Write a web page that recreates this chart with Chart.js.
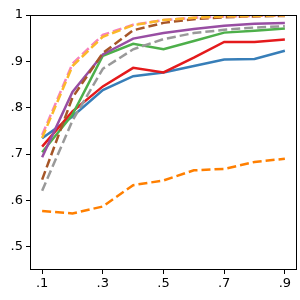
<!DOCTYPE html>
<html>
<head>
<meta charset="utf-8">
<script src="https://cdn.jsdelivr.net/npm/chart.js@4"></script>
<style>
  html, body { margin: 0; padding: 0; background: #fff; }
  #wrap { width: 300px; height: 300px; }
</style>
</head>
<body>
<div id="wrap"><canvas id="myChart"></canvas></div>
<script>
const xs = [0.1, 0.2, 0.3, 0.4, 0.5, 0.6, 0.7, 0.8, 0.9];
const xTicks = [0.1, 0.3, 0.5, 0.7, 0.9];
const yTicks = [0.5, 0.6, 0.7, 0.8, 0.9, 1.0];

const blueVals   = [0.734, 0.781, 0.838, 0.868, 0.876, 0.890, 0.904, 0.905, 0.923];
const redVals    = [0.716, 0.792, 0.846, 0.886, 0.876, 0.908, 0.942, 0.942, 0.947];
const greenVals  = [0.704, 0.785, 0.912, 0.938, 0.926, 0.944, 0.962, 0.966, 0.971];
const purpleVals = [0.693, 0.834, 0.915, 0.949, 0.961, 0.970, 0.977, 0.981, 0.983];
const grayVals   = [0.621, 0.772, 0.884, 0.926, 0.948, 0.961, 0.968, 0.973, 0.976];
const brownVals  = [0.645, 0.822, 0.918, 0.967, 0.983, 0.991, 0.995, 0.997, 0.998];
const pinkVals   = [0.741, 0.895, 0.957, 0.979, 0.989, 0.994, 0.997, 0.998, 0.999];
const yellowVals = [0.735, 0.890, 0.953, 0.978, 0.989, 0.994, 0.997, 0.998, 0.999];
const orangeVals = [0.577, 0.572, 0.587, 0.633, 0.643, 0.665, 0.668, 0.683, 0.690];

function series(vals, color, dashed) {
    return {
        data: vals.map((v, i) => ({x: xs[i], y: v})),
        borderColor: color,
        borderWidth: 2.5,
        borderDash: dashed ? [9, 4] : [],
        pointRadius: 0,
        tension: 0,
        fill: false
    };
}

// frame around plot area
const frame = {
    id: 'frame',
    afterDraw(chart) {
        const a = chart.chartArea, c = chart.ctx;
        c.save();
        c.strokeStyle = '#000';
        c.lineWidth = 1;
        c.strokeRect(a.left + 0.5, a.top + 0.5, a.right - a.left - 1, a.bottom - a.top - 1);
        c.restore();
    }
};

const fmt = v => {
    const s = (Math.round(v * 10) / 10).toString();
    return s.startsWith('0.') ? s.slice(1) : s;
};

const ctx = document.getElementById("myChart").getContext('2d');
const chart = new Chart(ctx, {
    type: 'line',
    data: {
        datasets: [
            series(yellowVals, '#fbb829', true),
            series(pinkVals, '#f781bf', true),
            series(brownVals, '#a65628', true),
            series(purpleVals, '#984ea3', false),
            series(grayVals, '#999999', true),
            series(greenVals, '#4daf4a', false),
            series(redVals, '#e41a1c', false),
            series(blueVals, '#377eb8', false),
            series(orangeVals, '#ff7f00', true)
        ]
    },
    options: {
        responsive: true,
        maintainAspectRatio: false,
        animation: false,
        layout: { padding: { top: 15, right: 3, left: 0, bottom: 0 } },
        plugins: { legend: { display: false }, tooltip: { enabled: false } },
        scales: {
            x: {
                type: 'linear',
                min: 0.06,
                max: 0.94,
                afterBuildTicks: s => { s.ticks = xTicks.map(v => ({value: v})); },
                afterFit: s => { s.height = 30; },
                grid: { drawOnChartArea: false, color: '#000', tickLength: 4 },
                border: { display: false },
                ticks: { color: '#000', font: { family: 'DejaVu Sans', size: 13 }, padding: 2, maxRotation: 0, callback: v => fmt(v) }
            },
            y: {
                min: 0.45,
                max: 1.0,
                afterBuildTicks: s => { s.ticks = yTicks.map(v => ({value: v})); },
                afterFit: s => { s.width = 30; },
                grid: { drawOnChartArea: false, color: '#000', tickLength: 4 },
                border: { display: false },
                ticks: { color: '#000', font: { family: 'DejaVu Sans', size: 13 }, padding: 3, callback: v => fmt(v) }
            }
        }
    },
    plugins: [frame]
});
</script>
</body>
</html>
